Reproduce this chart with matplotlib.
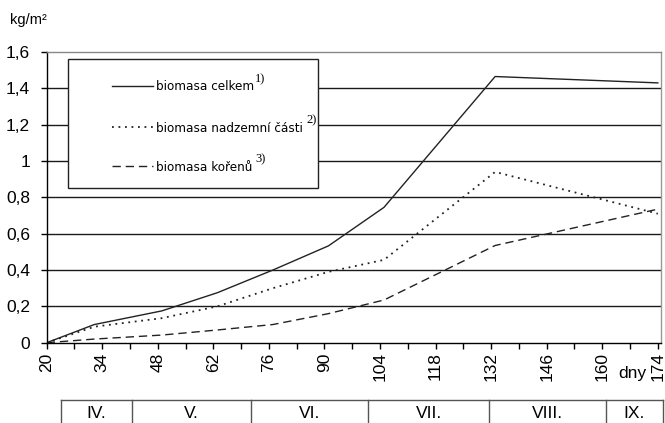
import numpy as np
import matplotlib
matplotlib.use('Agg')
import matplotlib.pyplot as plt
from matplotlib.transforms import blended_transform_factory
from matplotlib.patches import Rectangle
from matplotlib import font_manager

plt.rcParams['font.family'] = ['Liberation Sans', 'DejaVu Sans']

# Data (days after sowing, kg/m2)
days = [20, 32, 49, 63, 77, 91, 105, 133, 174]
celkem = [0, 0.10, 0.175, 0.275, 0.40, 0.533, 0.745, 1.465, 1.43]
nadzemni = [0, 0.088, 0.135, 0.20, 0.30, 0.39, 0.456, 0.94, 0.71]
koreny = [0, 0.02, 0.042, 0.07, 0.10, 0.16, 0.235, 0.535, 0.735]

labels = ['biomasa celkem', 'biomasa nadzemní části', 'biomasa kořenů']
notes = ['1)', '2)', '3)']

month_names = ['IV.', 'V.', 'VI.', 'VII.', 'VIII.', 'IX.']
month_edges = [23.5, 41.5, 71.5, 101, 131.5, 161, 175.2]

x_major = np.arange(20, 175, 14)
x_minor = np.arange(27, 175, 14)
y_ticks = [0, 0.2, 0.4, 0.6, 0.8, 1.0, 1.2, 1.4, 1.6]
y_labels = ['0', '0,2', '0,4', '0,6', '0,8', '1', '1,2', '1,4', '1,6']

# condensed face for the legend text (narrow like the original)
cands = [f for f in font_manager.fontManager.ttflist
         if f.name == 'DejaVu Sans' and f.stretch == 'condensed'
         and f.style == 'normal' and f.weight in (400, 'normal', 'regular')]
if cands:
    leg_prop = dict(fontproperties=font_manager.FontProperties(fname=cands[0].fname, size=9.6))
else:
    leg_prop = dict(fontsize=9.6)

W, H = 665, 423
fig = plt.figure(figsize=(W / 100, H / 100), dpi=100)
ax = fig.add_axes([46.7 / W, 1 - 342.7 / H, (661 - 46.7) / W, (342.7 - 52) / H])

def px(x, y):
    return x / W, 1 - y / H

line_col = '#222222'
styles = [dict(ls='-', lw=1.0),
          dict(ls=(0, (1, 2.6)), lw=1.3),
          dict(ls=(0, (6, 3.5)), lw=1.0)]

for vals, st in zip([celkem, nadzemni, koreny], styles):
    ax.plot(days, vals, color=line_col, **st)

ax.set_xlim(20, 174.8)
ax.set_ylim(0, 1.6)

ax.set_yticks(y_ticks)
ax.set_yticklabels(y_labels, fontsize=12.5)
ax.set_xticks(x_major)
ax.set_xticklabels([str(d) for d in x_major], rotation=90, fontsize=12.5)
ax.set_xticks(x_minor, minor=True)
ax.tick_params(axis='both', which='both', direction='out', length=4, width=1, color='black')
ax.tick_params(axis='y', pad=8)
ax.tick_params(axis='x', pad=3)

for y in y_ticks[1:-1]:
    ax.axhline(y, color='#1a1a1a', lw=1.0, zorder=0)

ax.spines['left'].set_color('black')
ax.spines['bottom'].set_color('black')
ax.spines['top'].set_color('#888888')
ax.spines['right'].set_color('#999999')
for s in ax.spines.values():
    s.set_linewidth(1.0)

# unit label and x label
fig.text(*px(10, 20), 'kg/m²', fontsize=10.5, va='center', ha='left')
fig.text(*px(632, 373), 'dny', fontsize=12.5, va='center', ha='center')

# legend drawn by hand
lx0, ly0 = px(68.3, 188.3)
lx1, ly1 = px(318, 59)
fig.patches.append(Rectangle((lx0, ly0), lx1 - lx0, ly1 - ly0, transform=fig.transFigure,
                             facecolor='white', edgecolor='#222222', lw=1.0, zorder=5))
rows = [86, 127, 166]
gaps = [1, 4, 4]
renderer = fig.canvas.get_renderer()
for yr, lab, note, gap, st in zip(rows, labels, notes, gaps, styles):
    xa, ya = px(111.7, yr)
    xb, _ = px(153.3, yr)
    fig.add_artist(plt.Line2D([xa, xb], [ya, ya], transform=fig.transFigure,
                              color=line_col, zorder=6, **st))
    t = fig.text(*px(155.5, yr + 1), lab, va='center', ha='left', zorder=7, **leg_prop)
    bb = t.get_window_extent(renderer)
    fig.text(*px(bb.x1 + gap, yr - 7), note, fontsize=9, family='Liberation Serif',
             va='center', ha='left', zorder=7)

# month boxes under the axis
tr = blended_transform_factory(ax.transData, fig.transFigure)
y_top = 1 - 400 / H
ax.plot([month_edges[0], month_edges[-1]], [y_top, y_top], transform=tr,
        color='#555555', lw=1.0, clip_on=False)
for e in month_edges:
    ax.plot([e, e], [y_top, 0], transform=tr, color='#555555', lw=1.0, clip_on=False)
for i, name in enumerate(month_names):
    xc = (month_edges[i] + month_edges[i + 1]) / 2
    ax.text(xc, 1 - 413 / H, name, transform=tr, fontsize=12.5, ha='center', va='center')

fig.savefig('out.png', dpi=100)
